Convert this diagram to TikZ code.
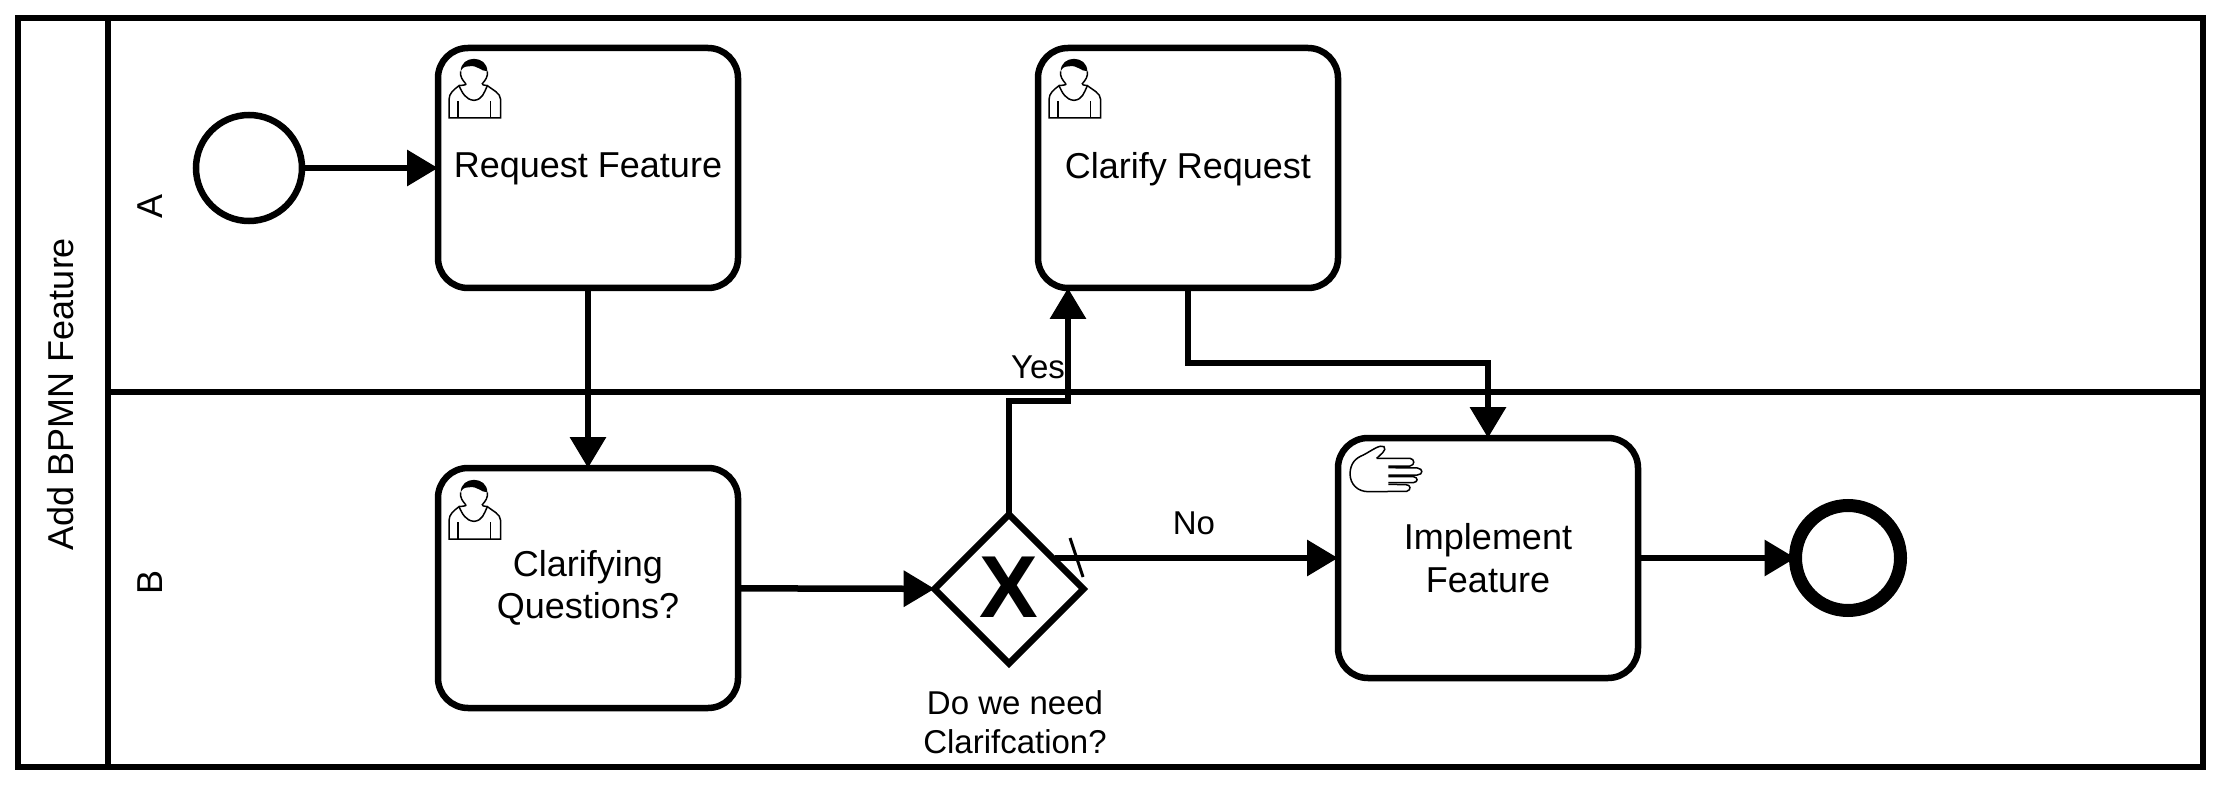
\documentclass[tikz,border=0pt]{standalone}
\usepackage{fontspec}
\setmainfont{Liberation Sans}
\usetikzlibrary{arrows.meta,shapes.geometric}

\tikzset{
    task/.style={draw,line width=6.5pt,rounded corners=30pt,minimum width=300pt,minimum height=240pt,inner sep=0,outer sep=0,align=center,font=\fontsize{36}{42.5}\selectfont},
    gateway/.style={draw,line width=6.5pt,diamond,aspect=1,minimum width=149pt,minimum height=149pt,inner sep=0,outer sep=0,text depth=4pt,font=\fontsize{88}{88}\selectfont\bfseries},
    flow/.style={line width=6.5pt,-{Triangle[length=31pt,width=35pt]}},
    lanetext/.style={rotate=90,font=\fontsize{36}{42}\selectfont},
    small/.style={font=\fontsize{33}{39}\selectfont,align=center},
    personicon/.pic={
        \begin{scope}[scale=1/3,line width=1.5pt]
            \draw (-75,135) -- (80,135) -- (80,80) .. controls (80,60) and (55,50) .. (40,38)
                .. controls (30,60) and (25,80) .. (0,82) .. controls (-25,80) and (-35,60) .. (-45,38)
                .. controls (-60,50) and (-75,60) .. (-75,80) -- cycle;
            \draw (-48,85) -- (-48,135) (50,85) -- (50,135);
            \draw (-40,-5) .. controls (-42,12) and (-35,20) .. (-25,32) .. controls (-22,36) and (-30,36) .. (-45,38);
            \draw (40,-5) .. controls (42,12) and (35,20) .. (25,32) .. controls (22,36) and (30,36) .. (40,38);
            \fill (-40,-5) .. controls (-40,-55) and (40,-55) .. (40,-5)
                .. controls (20,-5) and (10,-25) .. (-15,-20) .. controls (-30,-20) and (-35,-15) .. (-40,-5) -- cycle;
        \end{scope}
    },
    handicon/.pic={
        \begin{scope}[scale=1/3,line width=1.5pt]
            \draw (140,85) .. controls (150,75) and (172,60) .. (162,50) .. controls (150,42) and (125,62) .. (100,75)
                .. controls (75,85) and (62,100) .. (60,130) .. controls (60,165) and (85,185) .. (115,185)
                -- (230,184) .. controls (245,180) and (242,164) .. (228,164) -- (175,163);
            \draw (140,85) -- (240,85) .. controls (255,87) and (255,106) .. (240,108) -- (175,108);
            \draw (175,113) -- (262,114) .. controls (280,116) and (280,134) .. (262,135) -- (175,135);
            \draw (175,140) -- (250,140) .. controls (265,142) and (265,156) .. (250,158) -- (175,158);
        \end{scope}
    }
}

\begin{document}
\begin{tikzpicture}[x=1pt,y=-1pt]
    \useasboundingbox (0,0) rectangle (2220,786);

    % Lanes
    \draw[line width=6.5pt] (18,18) rectangle (2203,767);
    \draw[line width=6.5pt] (108,18) -- (108,767);
    \draw[line width=6.5pt] (108,392) -- (2203,392);

    \node[lanetext] (title) at (61,394) {Add BPMN Feature};
    \node[lanetext] (laneA) at (150,206) {A};
    \node[lanetext] (laneB) at (150,582) {B};

    % Events
    \node[draw,circle,line width=6.5pt,minimum size=106pt,inner sep=0,outer sep=0] (start) at (249,168) {};
    \node[draw,circle,line width=13pt,minimum size=105pt,inner sep=0,outer sep=0] (end) at (1848,558) {};

    % Tasks
    \node[task,text depth=4.8pt] (request) at (588,168) {Request Feature};
    \node[task,text depth=4.8pt] (clarify) at (1188,168) {Clarify Request};
    \node[task] (questions) at (588,588) {Clarifying\\Questions?};
    \node[task] (implement) at (1488,558) {Implement\\Feature};
    \node[gateway] (gate) at (1009,589) {X};

    % Icons
    \foreach \x/\y in {474/73, 1074/73, 474/494} {
        \pic at (\x,\y) {personicon};
    }
    \pic at (1330,430) {handicon};

    % Edges
    \coordinate (gateno) at (1055,558);
    \coordinate (slashA) at (1070,538);
    \coordinate (slashB) at (1083,577);
    \coordinate (yesA) at (1009,401);
    \coordinate (yesB) at (1068,401);
    \coordinate (backA) at (1188,363);
    \coordinate (backB) at (1488,363);

    \draw[flow] (start) -- (request);
    \draw[flow] (request) -- (questions);
    \draw[flow] (questions) -- (gate);
    \draw[flow] (gate) -- (yesA) -- (yesB) -- (yesB |- clarify.south);
    \draw[flow] (clarify) -- (backA) -- (backB) -- (implement);
    \draw[flow] (gateno) -- (gateno -| implement.west);
    \draw[flow] (implement) -- (end);
    \draw[line width=3pt] (slashA) -- (slashB);

    % Labels
    \node[small] (yes) at (1038,367) {Yes};
    \node[small] (no) at (1194,523) {No};
    \node[small] (need) at (1015,722) {Do we need\\Clarifcation?};
\end{tikzpicture}
\end{document}
